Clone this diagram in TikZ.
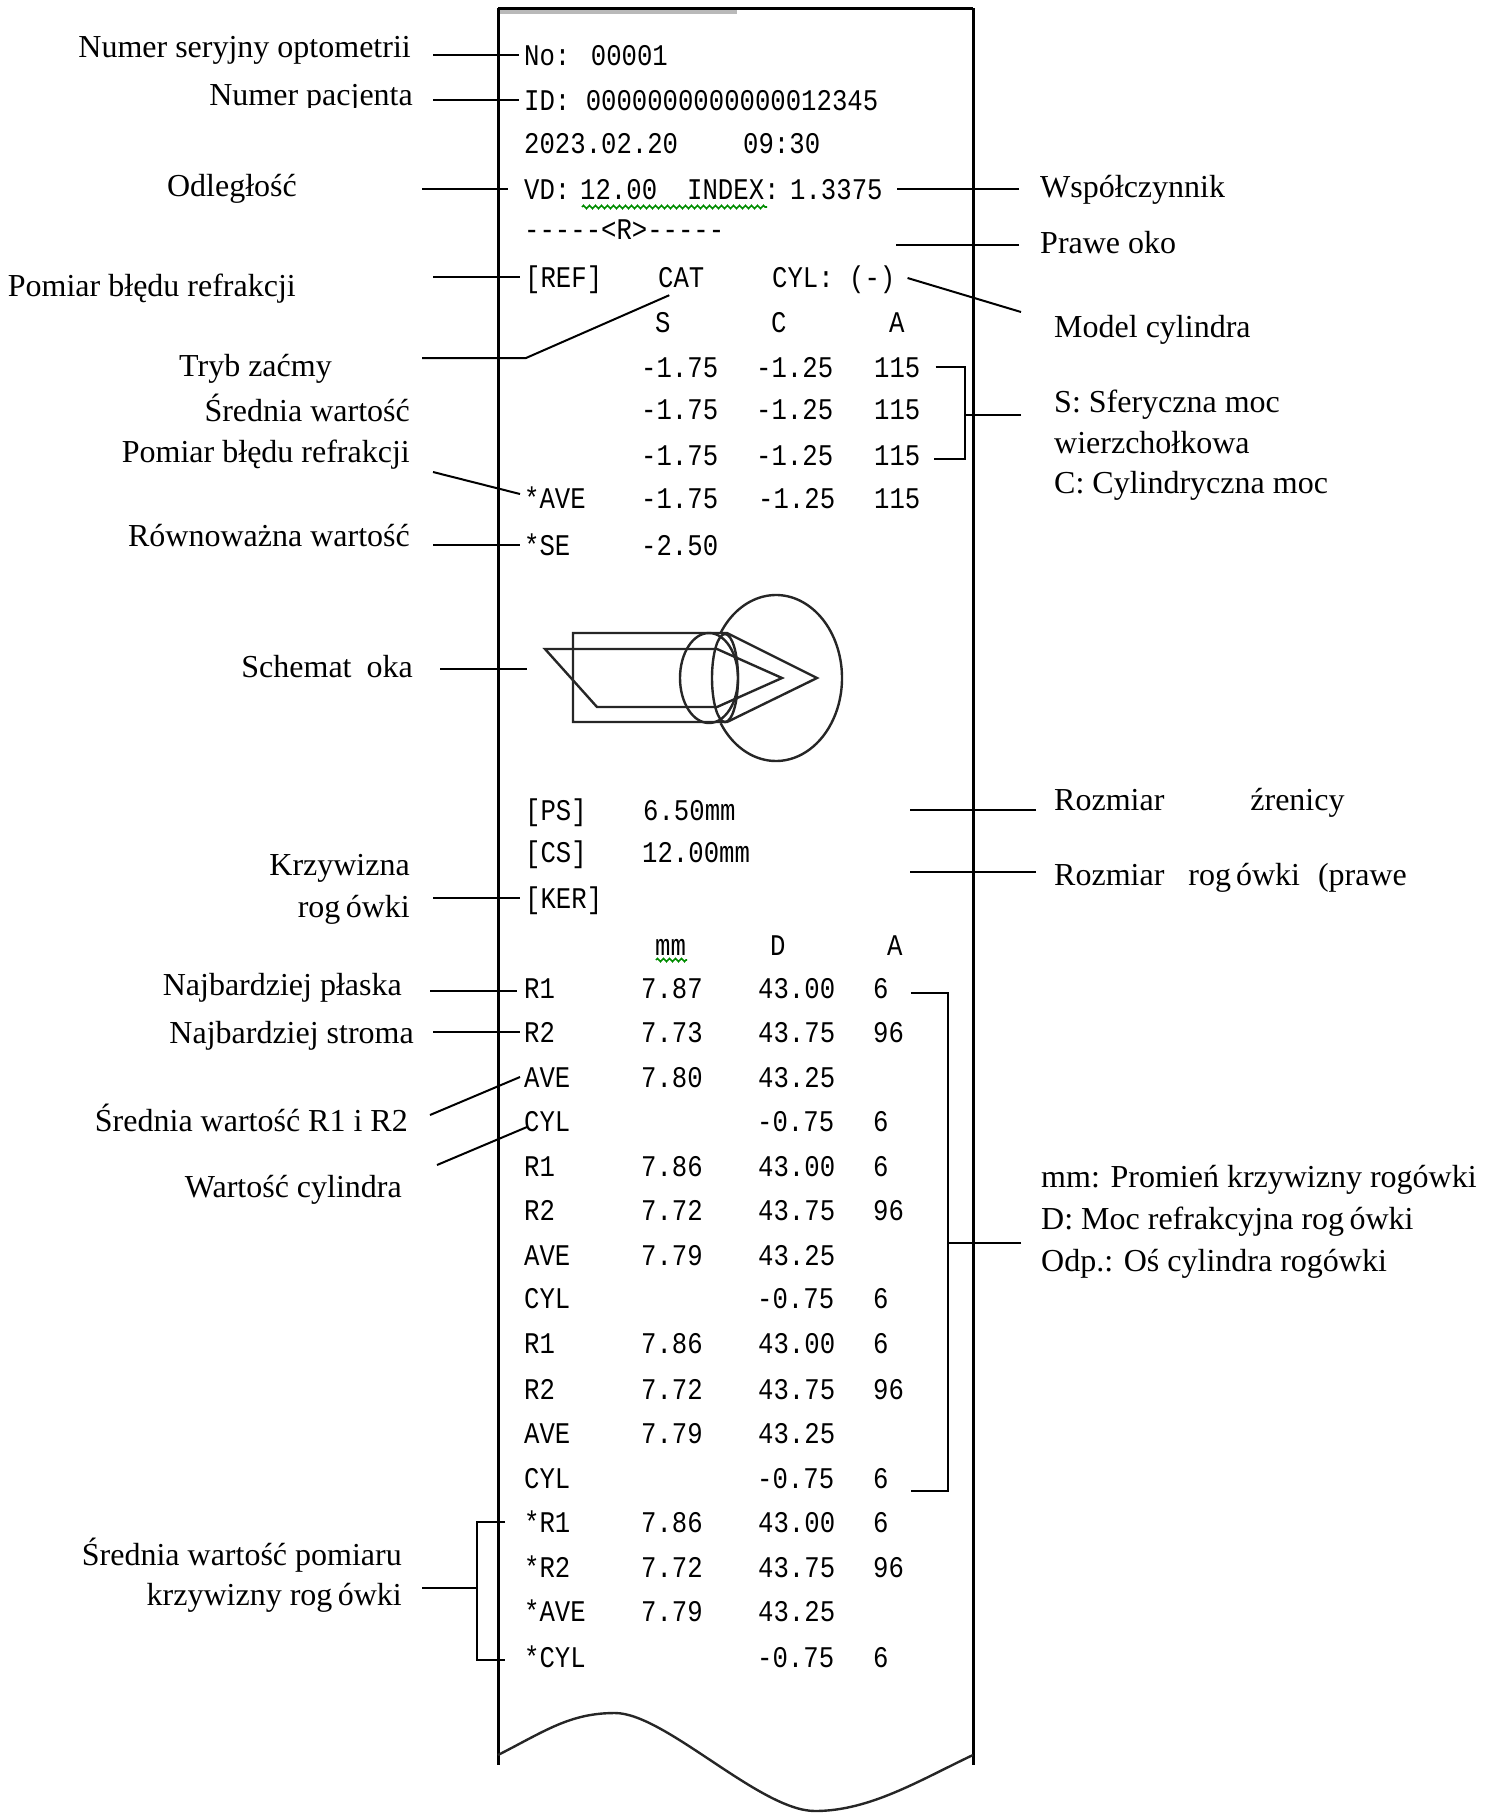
\documentclass[tikz,border=0pt]{standalone}
\usepackage{fontspec}
\setmainfont{Liberation Serif}
\newfontfamily\prtf[FakeStretch=0.855]{Liberation Mono}
\usetikzlibrary{decorations.pathmorphing}

\tikzset{
  lab/.style={font=\fontsize{32}{38}\selectfont, inner sep=0pt, text height=21pt, text depth=0pt, anchor=east},
  rlab/.style={lab, anchor=west},
  prt/.style={font=\prtf\fontsize{30}{34}\selectfont, inner sep=0pt, text height=20pt, text depth=0pt, anchor=west},
  lead/.style={line width=2pt, black},
  paper/.style={line width=3pt, black},
  eyeline/.style={line width=2.4pt, black!85},
  squig/.style={green!55!black, line width=1.6pt, decorate,
    decoration={zigzag, segment length=6pt, amplitude=1.6pt}},
}

\begin{document}
\begin{tikzpicture}[x=1pt,y=1pt]
\useasboundingbox (0,0) rectangle (1491,-1813);

% ---------- paper strip ----------
\fill[gray!55] (498,-9) rectangle (737,-14);
\draw[paper] (498,-8) -- (973,-8);
\draw[paper] (498,-8) -- (498,-1765);
\draw[paper] (973,-8) -- (973,-1765);
\draw[eyeline] (498,-1755) .. controls (545,-1731) and (570,-1713) .. (615,-1713)
  .. controls (665,-1713) and (760,-1811) .. (815,-1811)
  .. controls (870,-1811) and (920,-1780) .. (973,-1755);

% ---------- printout: header ----------
\node[prt] (pNo) at (524,-55) {No: 00001};
\node[prt] (pID) at (524,-100) {ID: 0000000000000012345};
\node[prt] (pDate) at (524,-143) {2023.02.20};
\node[prt] (pTime) at (743,-143) {09:30};
\node[prt] (pVD) at (524,-189) {VD:};
\node[prt] (pVDv) at (580,-189) {12.00};
\node[prt] (pIdx) at (687,-189) {INDEX:};
\node[prt] (pIdxv) at (790,-189) {1.3375};
\draw[squig] (582,-207) -- (767,-207);
\node[prt] (pEyeR) at (524,-229) {-{}-{}-{}-{}-<R>-{}-{}-{}-{}-};

% ---------- printout: refraction ----------
\node[prt] (pREF) at (525,-277) {[REF]};
\node[prt] (pCAT) at (658,-277) {CAT};
\node[prt] (pCYL) at (772,-277) {CYL: (-)};
\node[prt] (hS) at (655,-322) {S};
\node[prt] (hC) at (771,-322) {C};
\node[prt] (hA) at (889,-322) {A};
\foreach \y [count=\i] in {367,409,455} {
  \node[prt] (rS\i) at (641,-\y) {-1.75};
  \node[prt] (rC\i) at (756,-\y) {-1.25};
  \node[prt] (rA\i) at (874,-\y) {115};
}
\node[prt] (pAVE) at (524,-498) {*AVE};
\node[prt] (aS) at (641,-498) {-1.75};
\node[prt] (aC) at (758,-498) {-1.25};
\node[prt] (aA) at (874,-498) {115};
\node[prt] (pSE) at (524,-545) {*SE};
\node[prt] (pSEv) at (641,-545) {-2.50};

% ---------- eye schematic ----------
\draw[eyeline] (573,-633) -- (727,-633) -- (817,-678) -- (727,-722) -- (573,-722) -- cycle;
\draw[eyeline] (545,-649) -- (717,-649) -- (782,-678) -- (717,-707) -- (597,-707) -- cycle;
\draw[eyeline] (709,-678) ellipse [x radius=29pt, y radius=45pt];
\draw[eyeline] (725,-678) ellipse [x radius=13pt, y radius=44pt];
\draw[eyeline] (720.65,-632.8) arc [start angle=147, end angle=-147, x radius=66pt, y radius=83pt];
\coordinate (eyeL) at (527,-669);

% ---------- printout: keratometry ----------
\node[prt] (pPS) at (525,-810) {[PS]};
\node[prt] (pPSv) at (643,-810) {6.50mm};
\node[prt] (pCS) at (525,-852) {[CS]};
\node[prt] (pCSv) at (642,-852) {12.00mm};
\node[prt] (pKER) at (525,-898) {[KER]};
\node[prt] (kmm) at (655,-945) {mm};
\node[prt] (kD) at (770,-945) {D};
\node[prt] (kA) at (887,-945) {A};
\draw[squig] (656,-960) -- (687,-960);

\foreach \y/\n/\r/\d/\a in {988/R1/7.87/43.00/6, 1032/R2/7.73/43.75/96,
    1166/R1/7.86/43.00/6, 1210/R2/7.72/43.75/96,
    1343/R1/7.86/43.00/6, 1389/R2/7.72/43.75/96,
    1522/*R1/7.86/43.00/6, 1567/*R2/7.72/43.75/96} {
  \node[prt] (k\y n) at (524,-\y) {\n};
  \node[prt] (k\y r) at (641,-\y) {\r};
  \node[prt] (k\y d) at (758,-\y) {\d};
  \node[prt] (k\y a) at (873,-\y) {\a};
}
\foreach \y/\n/\r/\d in {1077/AVE/7.80/43.25, 1255/AVE/7.79/43.25,
    1433/AVE/7.79/43.25, 1611/*AVE/7.79/43.25} {
  \node[prt] (k\y n) at (524,-\y) {\n};
  \node[prt] (k\y r) at (641,-\y) {\r};
  \node[prt] (k\y d) at (758,-\y) {\d};
}
\foreach \y/\n in {1121/CYL, 1298/CYL, 1478/CYL, 1657/*CYL} {
  \node[prt] (k\y n) at (524,-\y) {\n};
  \node[prt] (k\y d) at (757,-\y) {-0.75};
  \node[prt] (k\y a) at (873,-\y) {6};
}

% ---------- left-hand labels ----------
\node[lab] (Lser) at (411,-47) {Numer seryjny optometrii};
\begin{scope}
  \clip (0,-60) rectangle (480,-107);
  \node[lab] (Lpat) at (413,-95) {Numer pacjenta};
\end{scope}
\node[lab] (Lodl) at (297,-186) {Odległość};
\node[lab] (Lref) at (296,-286) {Pomiar błędu refrakcji};
\node[lab] (Ltryb) at (332,-366) {Tryb zaćmy};
\node[lab] (Lsr) at (410,-411) {Średnia wartość};
\node[lab] (Lref2) at (410,-452) {Pomiar błędu refrakcji};
\node[lab] (Lrow) at (410,-536) {Równoważna wartość};
\node[lab] (Lsch) at (413,-667) {Schemat\hspace{15pt}oka};
\node[lab] (Lkrz) at (410,-865) {Krzywizna};
\node[lab] (Lrog) at (410,-907) {rog\,ówki};
\node[lab] (Lpl) at (402,-985) {Najbardziej płaska};
\node[lab] (Lst) at (414,-1033) {Najbardziej stroma};
\node[lab] (Lav) at (408,-1121) {Średnia wartość R1 i R2};
\node[lab] (Lcyl) at (402,-1187) {Wartość cylindra};
\node[lab] (Lsp1) at (402,-1555) {Średnia wartość pomiaru};
\node[lab] (Lsp2) at (402,-1595) {krzywizny rog\,ówki};

% ---------- right-hand labels ----------
\node[rlab] (Rwsp) at (1040,-187) {Współczynnik};
\node[rlab] (Rpr) at (1040,-243) {Prawe oko};
\node[rlab] (Rmod) at (1054,-327) {Model cylindra};
\node[rlab] (RS1) at (1054,-402) {S: Sferyczna moc};
\node[rlab] (RS2) at (1054,-443) {wierzchołkowa};
\node[rlab] (RS3) at (1054,-483) {C: Cylindryczna moc};
\node[rlab] (Rps) at (1054,-800) {Rozmiar\hspace{86pt}źrenicy};
\node[rlab] (Rcs) at (1054,-875) {Rozmiar\hspace{24pt}rog\hspace{5pt}ówki\hspace{18pt}(prawe};
\node[rlab] (Rk1) at (1041,-1177) {mm: Promień krzywizny rogówki};
\node[rlab] (Rk2) at (1041,-1219) {D: Moc refrakcyjna rog\,ówki};
\node[rlab] (Rk3) at (1041,-1261) {Odp.: Oś cylindra rogówki};

% ---------- leaders, left ----------
\draw[lead] (pNo.west -| Lser.east) ++(22pt,0) -- ([xshift=-5pt]pNo.west);
\draw[lead] (pID.west -| Lpat.east) ++(20pt,0) -- ([xshift=-5pt]pID.west);
\draw[lead] (pVD.west -| Lodl.east) ++(125pt,0) -- ([xshift=-16pt]pVD.west);
\draw[lead] (pREF.west -| Lref.east) ++(137pt,0) -- ([xshift=-5pt]pREF.west);
\draw[lead] (Ltryb.east) ++(90pt,8pt) -- ++(104pt,0) -- ([xshift=-12pt,yshift=-8pt]pCAT.south);
\draw[lead] (Lref2.east) ++(23pt,-20pt) -- ([xshift=-4pt,yshift=4pt]pAVE.west);
\draw[lead] (pSE.west -| Lrow.east) ++(23pt,0) -- ([xshift=-4pt]pSE.west);
\draw[lead] (Lsch.east) ++(27pt,-2pt) -- (eyeL);
\draw[lead] (pKER.west -| Lrog.east) ++(23pt,0) -- ([xshift=-5pt]pKER.west);
\draw[lead] (k988n.west -| Lpl.east) ++(28pt,-3pt) -- ([xshift=-7pt,yshift=-3pt]k988n.west);
\draw[lead] (k1032n.west -| Lst.east) ++(19pt,0) -- ([xshift=-4pt]k1032n.west);
\draw[lead] (Lav.east) ++(22pt,6pt) -- ([xshift=-4pt]k1077n.west);
\draw[lead] (Lcyl.east) ++(35pt,22pt) -- ([xshift=3pt,yshift=-6pt]k1121n.west);
\draw[lead] ([xshift=-19pt]k1522n.west) -- ++(-28pt,0) |- ([xshift=-19pt,yshift=-3pt]k1657n.west);
\draw[lead] (Lsp2.east) ++(20pt,7pt) -- ++(55pt,0);

% ---------- leaders, right ----------
\draw[lead] (pIdxv.east -| Rwsp.west) ++(-21pt,0) -- ([xshift=14pt]pIdxv.east);
\draw[lead] (Rpr.west) ++(-21pt,-2pt) -- ++(-123pt,0);
\draw[lead] ([xshift=12pt,yshift=-1pt]pCYL.east) -- ([xshift=-33pt,yshift=15pt]Rmod.west);
\draw[lead] ([xshift=15pt]rA1.east) -- ++(29pt,0) |- ([xshift=13pt,yshift=-4pt]rA3.east);
\draw[lead] (RS1.west) ++(-33pt,-13pt) -- ++(-57pt,0);
\draw[lead] (Rps.west) ++(-18pt,-10pt) -- ++(-126pt,0);
\draw[lead] (Rcs.west) ++(-18pt,3pt) -- ++(-126pt,0);
\draw[lead] ([xshift=22pt,yshift=-5pt]k988a.east) -- ++(37pt,0) |- ([xshift=22pt,yshift=-13pt]k1478a.east);
\draw[lead] (Rk2.west) ++(-20pt,-24pt) -- ++(-74pt,0);
\end{tikzpicture}
\end{document}
